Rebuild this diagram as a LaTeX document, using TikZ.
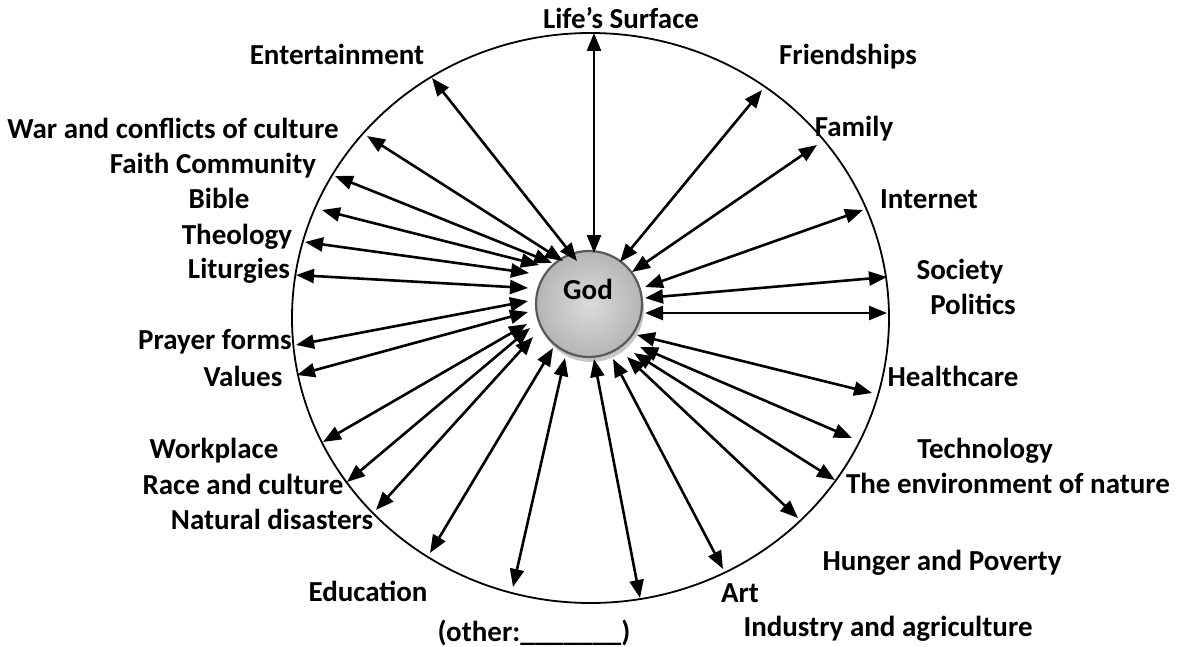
\documentclass[tikz,border=0pt]{standalone}
\usepackage{fontspec}
\setmainfont{Carlito}
\usetikzlibrary{arrows.meta,shadows}
\begin{document}
\begin{tikzpicture}[x=0.5pt,y=-0.5pt,
  conn/.style={line width=1.3pt,{Triangle[length=9pt,width=7pt]}-{Triangle[length=9pt,width=7pt]}},
  lbl/.style={font=\fontsize{14.5}{17}\selectfont\bfseries, inner sep=0pt, anchor=center,
    text height=0.64em, text depth=0pt}]
\useasboundingbox (0,0) rectangle (1179,647);
% outer boundary
\draw[line width=0.9pt] (590.5,318) ellipse [x radius=149.25pt, y radius=142.5pt];
% God
\node[circle, minimum size=53pt, draw=gray!70!black, line width=1.1pt,
  inner color=gray!28, outer color=gray!58,
  drop shadow={shadow xshift=1pt, shadow yshift=-2.5pt, fill=gray!45, opacity=1}] (god) at (589,304) {};
\node[lbl] (godtxt) at (588,293) {God};
% endpoints
\coordinate (o1) at (594,33);   \coordinate (i1) at (594,253);
\coordinate (o2) at (432,78);   \coordinate (i2) at (577,261);
\coordinate (o3) at (762,90);   \coordinate (i3) at (620,262);
\coordinate (o4) at (817,145);  \coordinate (i4) at (632,272);
\coordinate (o5) at (367,136);  \coordinate (i5) at (563,261);
\coordinate (o6) at (335,176);  \coordinate (i6) at (552,263);
\coordinate (o7) at (322,210);  \coordinate (i7) at (539,265);
\coordinate (o8) at (305,242);  \coordinate (i8) at (529,273);
\coordinate (o9) at (296,275);  \coordinate (i9) at (528,288);
\coordinate (o10) at (863,210); \coordinate (i10) at (645,287);
\coordinate (o11) at (887,277); \coordinate (i11) at (645,298);
\coordinate (o12) at (887,313); \coordinate (i12) at (645,313);
\coordinate (o13) at (296,345); \coordinate (i13) at (528,301);
\coordinate (o14) at (297,375); \coordinate (i14) at (528,312);
\coordinate (o15) at (872,393); \coordinate (i15) at (637,335);
\coordinate (o16) at (852,438); \coordinate (i16) at (640,347);
\coordinate (o17) at (835,480); \coordinate (i17) at (634,353);
\coordinate (o18) at (798,518); \coordinate (i18) at (627,357);
\coordinate (o19) at (723,569); \coordinate (i19) at (613,359);
\coordinate (o20) at (640,598); \coordinate (i20) at (594,359);
\coordinate (o21) at (513,587); \coordinate (i21) at (565,358);
\coordinate (o22) at (430,553); \coordinate (i22) at (553,348);
\coordinate (o23) at (376,510); \coordinate (i23) at (533,337);
\coordinate (o24) at (347,482); \coordinate (i24) at (530,328);
\coordinate (o25) at (323,442); \coordinate (i25) at (527,324);
\foreach \k in {1,...,25} {\draw[conn] (i\k) -- (o\k);}
% labels
\node[lbl] (l1) at (621,22) {Life’s Surface};
\node[lbl] (l2) at (337,58) {Entertainment};
\node[lbl] (l3) at (848,58) {Friendships};
\node[lbl] (l4) at (173,132) {War and conflicts of culture};
\node[lbl] (l5) at (854,130) {Family};
\node[lbl] (l6) at (213,167) {Faith Community};
\node[lbl] (l7) at (219,202) {Bible};
\node[lbl] (l8) at (929,202) {Internet};
\node[lbl] (l9) at (237,238) {Theology};
\node[lbl] (l10) at (239,272) {Liturgies};
\node[lbl] (l11) at (960,273) {Society};
\node[lbl] (l12) at (973,308) {Politics};
\node[lbl] (l13) at (215,343) {Prayer forms};
\node[lbl] (l14) at (243,380) {Values};
\node[lbl] (l15) at (953,380) {Healthcare};
\node[lbl] (l16) at (214,452) {Workplace};
\node[lbl] (l17) at (985,452) {Technology};
\node[lbl] (l18) at (243,488) {Race and culture};
\node[lbl] (l19) at (1008,487) {The environment of nature};
\node[lbl] (l20) at (272,523) {Natural disasters};
\node[lbl] (l21) at (942,564) {Hunger and Poverty};
\node[lbl] (l22) at (368,595) {Education};
\node[lbl] (l23) at (740,596) {Art};
\node[lbl] (l24) at (534,635) {(other:\_\_\_\_\_\_\_)};
\node[lbl] (l25) at (888,630) {Industry and agriculture};
\end{tikzpicture}
\end{document}
